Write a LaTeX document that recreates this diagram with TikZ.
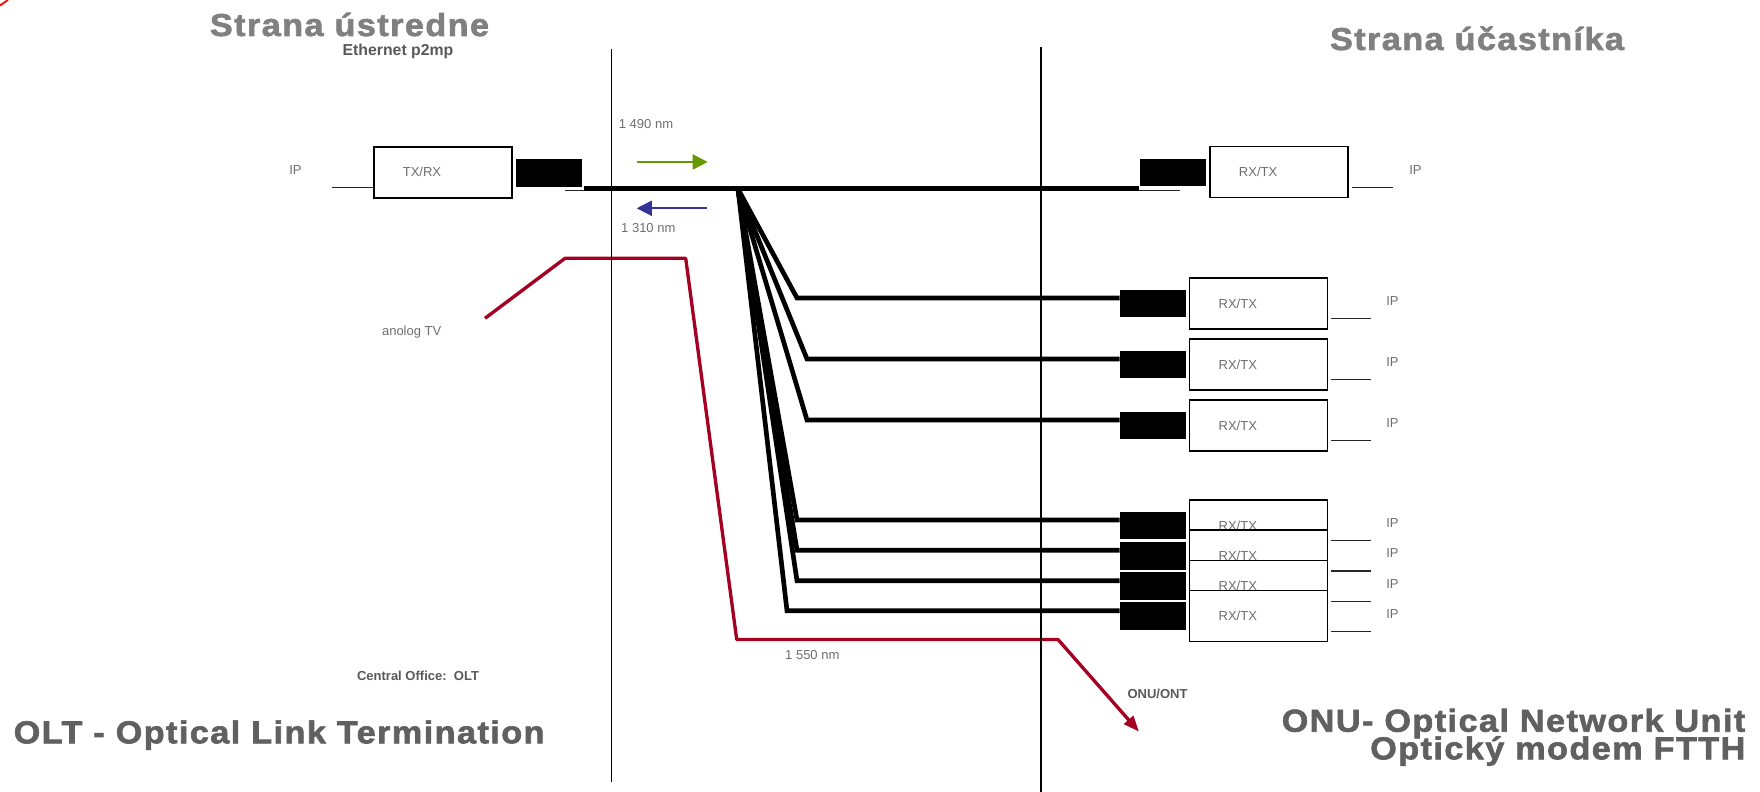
\documentclass[tikz,border=0pt]{standalone}
\usepackage{fontspec}
\setmainfont{Liberation Sans}
\newfontfamily\headfont[LetterSpace=4.6,FakeStretch=1.08,FakeBold=2]{Liberation Sans}
\usetikzlibrary{arrows.meta}
\definecolor{catv}{HTML}{A50021}
\definecolor{downlink}{HTML}{669900}
\definecolor{uplink}{HTML}{333399}
\definecolor{headgrey}{HTML}{808080}
\definecolor{footgrey}{HTML}{606060}
\definecolor{notegrey}{HTML}{595959}
\definecolor{textgrey}{HTML}{6E6E6E}

\begin{document}
\begin{tikzpicture}[x=0.01cm,y=-0.01cm,
 font=\fontsize{3.7}{4.4}\selectfont,
 lbl/.style={text=textgrey,inner sep=0pt,anchor=base},
 note/.style={text=notegrey,inner sep=0pt,anchor=base,
   font=\bfseries\fontsize{3.7}{4.4}\selectfont},
 head/.style={inner sep=0pt,font=\headfont\bfseries\fontsize{9}{10.8}\selectfont},
 rxbox/.style={draw,line width=0.45pt,fill=white,text=textgrey,
   minimum width=1.38cm,minimum height=0.51cm,text width=0.8cm,
   inner xsep=0.29cm,align=left},
 plug/.style={fill=black,minimum width=0.66cm,minimum height=0.276cm,
   inner sep=0pt},
 wire/.style={line width=0.3pt,black!85},
 fibre/.style={line width=1.4pt},
 branch/.style={line width=1.33pt},
 divider/.style={line width=0.37pt},
 wave/.style={line width=0.48pt,-{Triangle[length=4.3pt,width=4.3pt]}},
 tvline/.style={catv,line width=0.95pt,line join=round}]

\useasboundingbox (0,0) rectangle (1760,792);
\draw[red,line width=0.5pt] (0,5.5) -- (8,0);

% side headings
\node[head,text=headgrey,anchor=base] (exchange) at (349.5,36) {Strana ústredne};
\node[head,text=headgrey,anchor=base] (subscriber) at (1477,50) {Strana účastníka};
\node[note,font=\bfseries\fontsize{4.5}{5.4}\selectfont] (ethernet) at (398,56)
  {Ethernet p2mp};
\node[head,text=footgrey,anchor=base west] (oltname) at (13,743.3)
  {OLT - Optical Link Termination};
\node[head,text=footgrey,anchor=base east] (onuname) at (1746,731.7)
  {ONU- Optical Network Unit};
\node[head,text=footgrey,anchor=base east] (onumodem) at (1746,759.3)
  {Optický modem FTTH};

% central office end
\node[rxbox] (olt) at (442.85,172.35) {TX/RX};
\node[plug] (oltplug) at (548.7,172.85) {};
\draw[wire] ([shift={(0,15.6)}]olt.west) -- ++(-40.7,0);
\node[lbl] (oltip) at (295.5,174.6) {IP};

% subscriber on the through fibre
\node[rxbox] (onu0) at (1279,172.2) {RX/TX};
\node[plug] (plug0) at (1173,172.5) {};
\draw[wire] ([shift={(3,15.5)}]onu0.east) -- ++(41,0);
\node[lbl] (ip0) at (1415.5,174.6) {IP};

% trunk fibre with the passive splitter
\coordinate (tail) at ([shift={(-17,2.8)}]oltplug.south east);
\coordinate (trunk) at ([shift={(2,0.8)}]oltplug.south east);
\draw[wire] (tail) -- ++(615,0);
\draw[fibre] (trunk) -- (trunk -| plug0.west);
\coordinate (split) at (738,189);

% drop fibres: index / box top / bend x
\foreach \n/\t/\cx in {1/278/797,2/339/807,3/400/807,4/500/797,
    5/530.3/797,6/560.7/797,7/590.7/787}{
  \node[plug] (plug\n) at (1153.35,\t+25.5) {};
  \draw[branch] (split) -- (\cx,\t+20) -- ([yshift=0.055cm]plug\n.west);
}
\foreach \n/\t in {1/278,2/339,3/400,4/500,5/530.3,6/560.7,7/590.7}{
  \node[rxbox] (onu\n) at (1258.65,\t+25.5) {RX/TX};
  \draw[wire] ([shift={(2.7,15.2)}]onu\n.east) -- ++(40,0);
  \node[lbl] (ip\n) at (1392.5,\t+27.6) {IP};
}

% wavelengths
\coordinate (dsfrom) at (636.7,162);
\coordinate (dsto) at (707.7,162);
\coordinate (usfrom) at (706.7,208.3);
\coordinate (usto) at (636.7,208.3);
\draw[wave,downlink] (dsfrom) -- (dsto);
\draw[wave,uplink] (usfrom) -- (usto);
\node[lbl] (ds) at (646,128.6) {1 490 nm};
\node[lbl] (us) at (648.3,233) {1 310 nm};

% analog TV overlay at 1550 nm
\coordinate (tvin) at (485,318.3);
\coordinate (tvout) at (1139,731.7);
\draw[tvline,-{Triangle[length=4.5pt,width=3.4pt]}] (tvin) -- (565,258.3)
  -- (685.7,258.3) -- (736.7,639.5) -- (1058,639.5) -- (tvout);
\node[lbl] (tv) at (411.7,335.7) {anolog TV};
\node[lbl] (tvnm) at (812.3,659.6) {1 550 nm};

\node[note] (co) at (418,681) {Central Office:\ \ OLT};
\node[note] (ont) at (1157.5,698.6) {ONU/ONT};

% domain borders
\draw[divider] (611.5,49.4) -- (611.5,782);
\draw[divider] (1041,47) -- (1041,792);
\end{tikzpicture}
\end{document}
